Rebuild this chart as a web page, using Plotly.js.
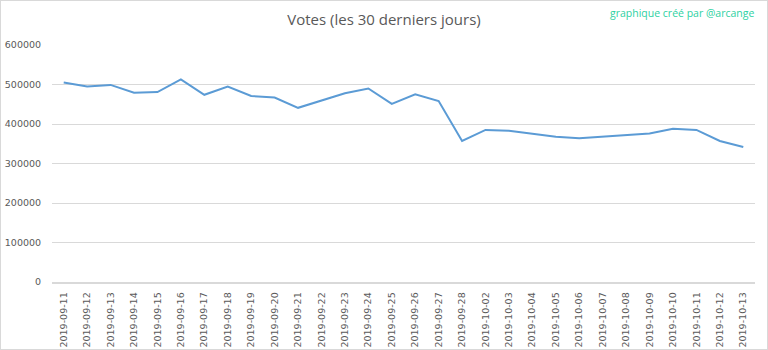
<!DOCTYPE html>
<html><head><meta charset="utf-8">
<script src="https://cdn.plot.ly/plotly-3.0.1.min.js"></script>
<style>
html,body{margin:0;padding:0;background:#fff;}
#wrap{width:768px;height:350px;box-sizing:border-box;border:1px solid #d9d9d9;position:relative;overflow:hidden;}
#chart{position:absolute;left:-1px;top:-1px;width:768px;height:350px;}
</style>
</head><body>
<div id="wrap"><div id="chart"></div></div>
<script>
const dates = ["2019-09-11","2019-09-12","2019-09-13","2019-09-14","2019-09-15","2019-09-16","2019-09-17","2019-09-18","2019-09-19","2019-09-20","2019-09-21","2019-09-22","2019-09-23","2019-09-24","2019-09-25","2019-09-26","2019-09-27","2019-09-28","2019-10-02","2019-10-03","2019-10-04","2019-10-05","2019-10-06","2019-10-07","2019-10-08","2019-10-09","2019-10-10","2019-10-11","2019-10-12","2019-10-13"];
const votes = [505000,495000,499000,479000,481000,513000,474000,495000,471000,467000,441000,459000,478000,490000,451000,475000,458000,357000,385000,383000,375000,368000,364000,368000,372000,376000,388000,385000,357000,342000];
const yTicks = [0,100000,200000,300000,400000,500000,600000];

const trace = {
  x: dates, y: votes, type: 'scatter', mode: 'lines',
  line: {color: '#5b9bd5', width: 2},
  hoverinfo: 'x+y'
};
const layout = {
  width: 768, height: 350,
  margin: {l: 52, r: 13, t: 45, b: 68},
  paper_bgcolor: '#ffffff', plot_bgcolor: '#ffffff',
  font: {family: 'Open Sans, sans-serif', color: '#595959', size: 10},
  title: {text: 'Votes (les 30 derniers jours)', x: 0.5, xanchor: 'center', y: 0.945, yanchor: 'middle',
          font: {family: 'Open Sans, sans-serif', size: 15, color: '#595959'}},
  showlegend: false,
  xaxis: {
    type: 'category', range: [-0.5, dates.length - 0.5], tickangle: -90, showgrid: false, zeroline: false,
    showline: true, linecolor: '#d9d9d9', linewidth: 1.5,
    ticks: 'outside', ticklen: 5, tickcolor: 'rgba(0,0,0,0)',
    tickfont: {family: 'DejaVu Sans, sans-serif', size: 9.5, color: '#595959'},
    fixedrange: true
  },
  yaxis: {
    range: [0, 600000], tickvals: yTicks, ticktext: yTicks.map(v => String(v)),
    showgrid: true, gridcolor: '#d9d9d9', gridwidth: 1, zeroline: false,
    showline: false, ticks: 'outside', ticklen: 8, tickcolor: 'rgba(0,0,0,0)',
    tickfont: {family: 'DejaVu Sans, sans-serif', size: 9.5, color: '#595959'},
    fixedrange: true
  },
  annotations: [{
    text: 'graphique créé par @arcange', xref: 'paper', yref: 'paper',
    x: 1.0, y: 1.0, xanchor: 'right', yanchor: 'middle',
    yshift: 32, xshift: 1, showarrow: false,
    font: {family: 'Open Sans, sans-serif', size: 10.5, color: '#2ed1a2'}
  }]
};
Plotly.newPlot('chart', [trace], layout, {displayModeBar: false, staticPlot: true});
</script>
</body></html>
